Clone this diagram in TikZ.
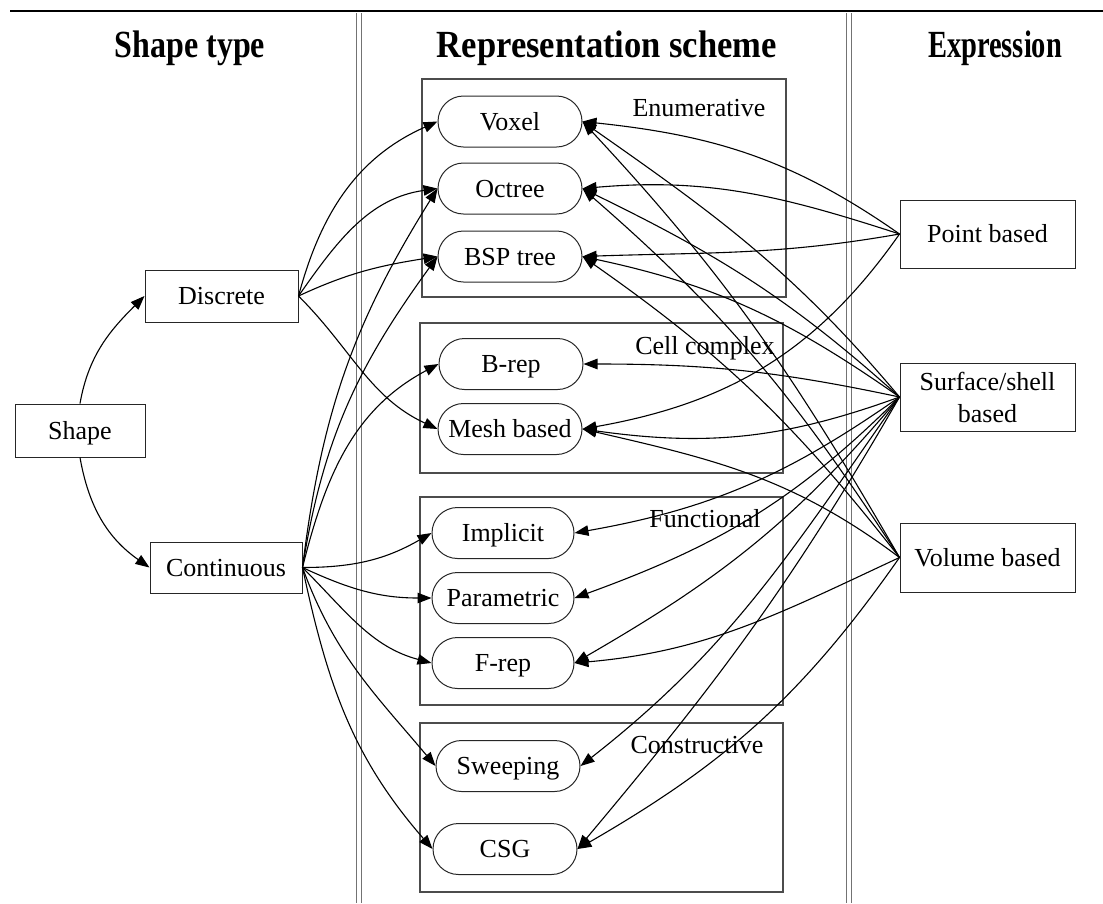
\documentclass[tikz,border=0pt]{standalone}
\usepackage{fontspec}
\setmainfont{Liberation Serif}
\usetikzlibrary{arrows.meta,shapes.misc}
\begin{document}
\begin{tikzpicture}[x=1pt,y=1pt,
  box/.style={draw=black!85, line width=1pt, rectangle, inner sep=0pt, font=\fontsize{26}{32}\selectfont, text height=17pt, text depth=0pt},
  box2/.style={draw=black!85, line width=1pt, rectangle, inner sep=0pt, font=\fontsize{26}{32}\selectfont, align=center},
  pill/.style={draw=black!85, line width=1pt, rounded rectangle, minimum height=51pt, inner sep=0pt, font=\fontsize{26}{30}\selectfont, text height=17pt, text depth=0pt},
  grp/.style={draw=black!70, line width=1.3pt},
  lbl/.style={font=\fontsize{26}{30}\selectfont, inner sep=0pt, anchor=base},
  hdr/.style={font=\bfseries\fontsize{32}{36}\selectfont, inner sep=0pt, anchor=base},
  arr/.style={line width=1.1pt, -{Triangle[length=14pt,width=10.5pt]}},
  sep/.style={draw=black!55, line width=0.9pt}
]
\useasboundingbox (0,0) rectangle (1103,-903);
% rules
\draw[line width=2.6pt] (10,-11) -- (1103,-11);
\draw[sep] (356,-13) -- (356,-903);
\draw[sep] (361,-13) -- (361,-903);
\draw[sep] (846,-13) -- (846,-903);
\draw[sep] (851,-13) -- (851,-903);
% headers
\node[hdr] (h1) at (190,-57) {\scalebox{1}[1.2]{Shape type}};
\node[hdr] (h2) at (607,-57) {\scalebox{1.08}[1.2]{Representation scheme}};
\node[hdr] (h3) at (995,-57) {\scalebox{0.89}[1.2]{Expression}};
% group boxes
\draw[grp] (422,-79) rectangle (786,-297);
\draw[grp] (420,-323) rectangle (783,-473);
\draw[grp] (420,-497) rectangle (783,-705);
\draw[grp] (420,-723) rectangle (783,-892);
\node[lbl] (g1) at (699,-116) {Enumerative};
\node[lbl] (g2) at (705,-354) {Cell complex};
\node[lbl] (g3) at (705,-527) {Functional};
\node[lbl] (g4) at (697,-753) {Constructive};
% left nodes
\node[box, minimum width=130pt, minimum height=53pt] (shape) at (80,-430.5) {Shape};
\node[box, minimum width=153pt, minimum height=52pt] (disc) at (221.5,-296) {Discrete};
\node[box, minimum width=152pt, minimum height=51pt] (cont) at (226,-567.5) {Continuous};
% right nodes
\node[box, minimum width=175pt, minimum height=68pt] (point) at (987.5,-234) {Point based};
\node[box2, minimum width=175pt, minimum height=68pt] (surf) at (987.5,-397) {Surface/shell\\based};
\node[box, minimum width=175pt, minimum height=69pt] (vol) at (987.5,-557.5) {Volume based};
% pills
\node[pill, minimum width=144pt] (voxel) at (510,-121.5) {Voxel};
\node[pill, minimum width=144pt] (octree) at (510,-188.5) {Octree};
\node[pill, minimum width=144pt] (bsp) at (510,-256.5) {BSP tree};
\node[pill, minimum width=144pt] (brep) at (511,-364) {B-rep};
\node[pill, minimum width=144pt] (mesh) at (510,-429) {Mesh based};
\node[pill, minimum width=142pt] (impl) at (503,-533) {Implicit};
\node[pill, minimum width=142pt] (param) at (503,-598) {Parametric};
\node[pill, minimum width=142pt] (frep) at (503,-663) {F-rep};
\node[pill, minimum width=144pt] (sweep) at (508,-766) {Sweeping};
\node[pill, minimum width=144pt] (csg) at (505,-849) {CSG};
% shape
\draw[arr] (shape.north) to[out=80,in=225] (disc.west);
\draw[arr] (shape.south) to[out=-80,in=145] (cont.west);
% discrete
\draw[arr] (disc.east) to[out=75,in=204] (voxel.west);
\draw[arr] (disc.east) to[out=55,in=188] (octree.west);
\draw[arr] (disc.east) to[out=25,in=189] (bsp.west);
\draw[arr] (disc.east) to[out=-45,in=155] (mesh.west);
% continuous
\draw[arr] (cont.east) to[out=83,in=238] (octree.west);
\draw[arr] (cont.east) to[out=81,in=234] (bsp.west);
\draw[arr] (cont.east) to[out=76,in=208] (brep.west);
\draw[arr] (cont.east) to[out=0,in=210] (impl.west);
\draw[arr] (cont.east) to[out=-25,in=180] (param.west);
\draw[arr] (cont.east) to[out=-45,in=165] (frep.west);
\draw[arr] (cont.east) to[out=-70,in=130] (sweep.west);
\draw[arr] (cont.east) to[out=-78,in=131] (csg.west);
% point
\draw[arr] (point.west) to[out=145,in=-6] (voxel.east);
\draw[arr] (point.west) to[out=162,in=5] (octree.east);
\draw[arr] (point.west) to[out=190,in=2] (bsp.east);
\draw[arr] (point.west) to[out=235,in=10] (mesh.east);
% surface
\draw[arr] (surf.west) to[out=130,in=-35] (voxel.east);
\draw[arr] (surf.west) to[out=138,in=-26] (octree.east);
\draw[arr] (surf.west) to[out=145,in=-12] (bsp.east);
\draw[arr] (surf.west) to[out=168,in=0] (brep.east);
\draw[arr] (surf.west) to[out=200,in=-8] (mesh.east);
\draw[arr] (surf.west) to[out=215,in=10] (impl.east);
\draw[arr] (surf.west) to[out=225,in=20] (param.east);
\draw[arr] (surf.west) to[out=230,in=30] (frep.east);
\draw[arr] (surf.west) to[out=235,in=38] (sweep.east);
\draw[arr] (surf.west) to[out=240,in=50] (csg.east);
% volume
\draw[arr] (vol.west) to[out=120,in=-47] (voxel.east);
\draw[arr] (vol.west) to[out=123,in=-41] (octree.east);
\draw[arr] (vol.west) to[out=128,in=-35] (bsp.east);
\draw[arr] (vol.west) to[out=143,in=-13] (mesh.east);
\draw[arr] (vol.west) to[out=205,in=5] (frep.east);
\draw[arr] (vol.west) to[out=235,in=30] (csg.east);
\end{tikzpicture}
\end{document}
